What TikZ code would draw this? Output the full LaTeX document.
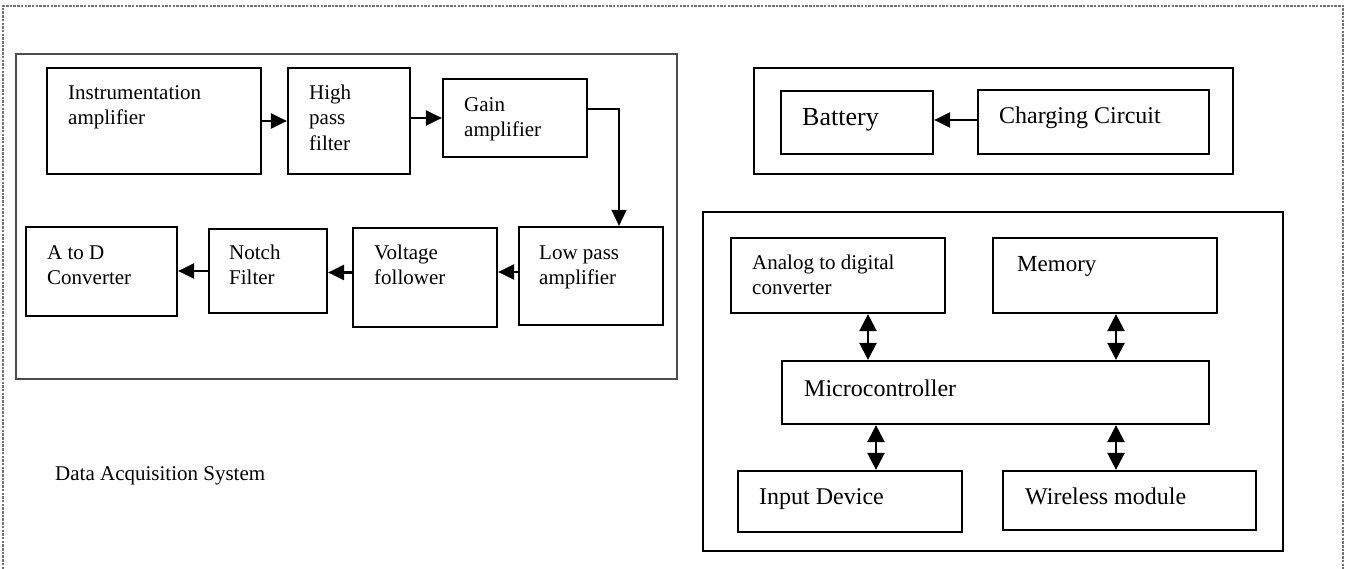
\documentclass[tikz,border=0pt]{standalone}
\usepackage{fontspec}
\setmainfont{Liberation Serif}
\usetikzlibrary{arrows.meta,fit}
\tikzset{
  frame/.style={draw=black!55, line width=1.2pt, dash pattern=on 2.5pt off 1.2pt},
  grp/.style={draw, line width=2.1pt, inner sep=0pt},
  grpl/.style={draw=black!70, line width=1.5pt, inner sep=0pt},
  blk/.style={draw, line width=2.2pt, inner sep=0pt},
  ml/.style={inner sep=0pt, anchor=north west, align=left, font=\fontsize{21}{25.5}\selectfont},
  sl/.style={inner sep=0pt, anchor=base west},
  flow/.style={line width=2.4pt, -{Triangle[length=16pt,width=15pt]}},
  thinflow/.style={line width=1.6pt, -{Triangle[length=16pt,width=15pt]}},
  bi/.style={line width=2.4pt, {Triangle[length=17pt,width=17pt]}-{Triangle[length=17pt,width=17pt]}},
}
\begin{document}
\begin{tikzpicture}[x=1pt,y=-1pt]
\useasboundingbox (0,0) rectangle (1348,569);
% dashed frame (bottom edge outside the picture)
\draw[frame] (3,569) -- (3,6) -- (1343,6) -- (1343,569);

% ---------- left group ----------
\node[grpl, fit={(16,54) (677,379)}] (das) {};
\node[blk, fit={(47,68) (261,174)}] (ia) {};
\node[blk, fit={(288,68) (410,174)}] (hp) {};
\node[blk, fit={(443,79) (587,157)}] (ga) {};
\node[blk, fit={(519,227) (663,325)}] (lp) {};
\node[blk, fit={(353,228) (497,327)}] (vf) {};
\node[blk, fit={(209,229) (327,313)}] (nf) {};
\node[blk, fit={(26,227) (177,316)}] (ad) {};

\node[ml] (iat) at (68,81.15) {\strut Instrumentation\\amplifier};
\node[ml] (hpt) at (309,81.15) {\strut High\\pass\\filter};
\node[ml] (gat) at (464,93.15) {\strut Gain\\amplifier};
\node[ml] (lpt) at (539,241.15) {\strut Low pass\\amplifier};
\node[ml] (vft) at (374,241.15) {\strut Voltage\\follower};
\node[ml] (nft) at (229,241.15) {\strut Notch\\Filter};
\node[ml] (adt) at (47,241.15) {\strut A to D\\Converter};

\draw[flow] (ia.east) -- (ia.east -| hp.west);
\draw[flow] (hp.east |- ga.west) -- (ga.west);
\draw[thinflow] ([yshift=9pt]ga.east) -| ([xshift=28pt]lp.north);
\draw[flow] ([yshift=4pt]lp.west) -- ([yshift=4pt]lp.west -| vf.east);
\draw[flow] ([yshift=5pt]vf.west) -- ([yshift=5pt]vf.west -| nf.east);
\draw[flow] (nf.west) -- (nf.west -| ad.east);

\node[sl, font=\fontsize{21}{25.5}\selectfont] (dast) at (55,480) {Data Acquisition System};

% ---------- power group ----------
\node[grp, fit={(754,68) (1233,174)}] (pw) {};
\node[blk, fit={(781,91) (933,154)}] (bat) {};
\node[blk, fit={(978,90) (1209,154)}] (ch) {};
\node[sl, font=\fontsize{26}{30}\selectfont] (batt) at (802,126) {Battery};
\node[sl, font=\fontsize{24}{28}\selectfont] (cht) at (999,124) {Charging Circuit};
\draw[flow] ([yshift=2pt]ch.west) -- ([yshift=2pt]ch.west -| bat.east);

% ---------- controller group ----------
\node[grp, fit={(703,212) (1283,551)}] (ctl) {};
\node[blk, fit={(731,238) (945,313)}] (adc) {};
\node[blk, fit={(993,238) (1217,313)}] (mem) {};
\node[blk, fit={(782,361) (1209,424)}] (mc) {};
\node[blk, fit={(738,471) (962,532)}] (inp) {};
\node[blk, fit={(1003,471) (1256,530)}] (wl) {};

\node[ml] (adct) at (752,251.15) {\strut Analog to digital\\converter};
\node[sl, font=\fontsize{23}{27}\selectfont] (memt) at (1017,272) {Memory};
\node[sl, font=\fontsize{24}{28}\selectfont] (mct) at (804,396) {Microcontroller};
\node[sl, font=\fontsize{24}{28}\selectfont] (inpt) at (759,504) {Input Device};
\node[sl, font=\fontsize{24}{28}\selectfont] (wlt) at (1025,504) {Wireless module};

\draw[bi] ([xshift=30pt]adc.south) -- ([xshift=30pt]adc.south |- mc.north);
\draw[bi] ([xshift=11pt]mem.south) -- ([xshift=11pt]mem.south |- mc.north);
\draw[bi] ([xshift=26pt]inp.north |- mc.south) -- ([xshift=26pt]inp.north);
\draw[bi] ([xshift=-13.5pt]wl.north |- mc.south) -- ([xshift=-13.5pt]wl.north);
\end{tikzpicture}
\end{document}
